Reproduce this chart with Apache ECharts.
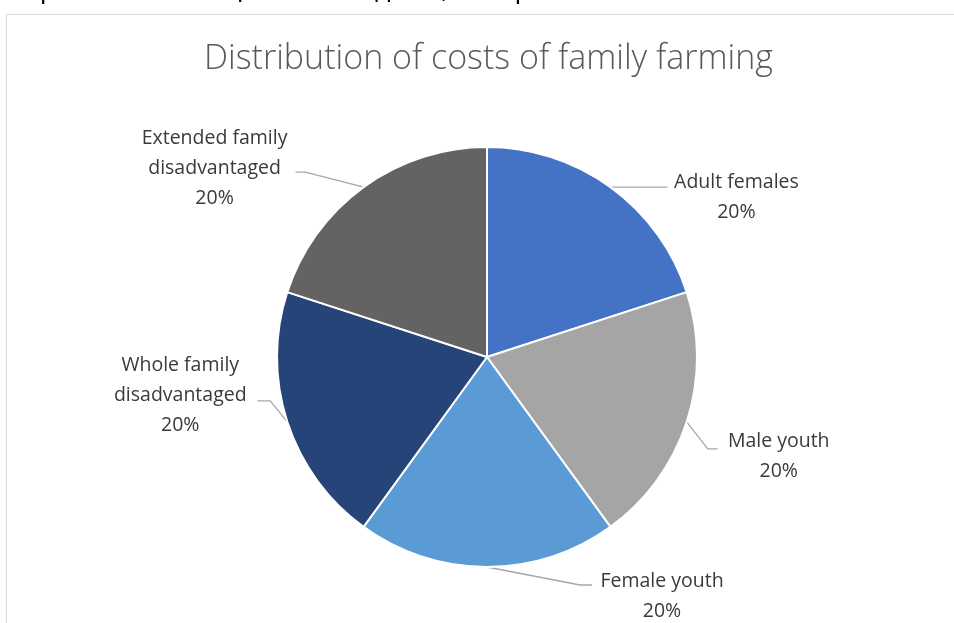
<!DOCTYPE html>
<html>
<head>
<meta charset="utf-8">
<script src="https://cdn.jsdelivr.net/npm/echarts@6/dist/echarts.min.js"></script>
<style>
html,body{margin:0;padding:0;background:#fff;}
#chart{width:954px;height:623px;}
</style>
</head>
<body>
<div id="chart"></div>
<script>
// ---- data ----
var categories = ['Adult females', 'Male youth', 'Female youth', 'Whole family disadvantaged', 'Extended family disadvantaged'];
var labelTexts = ['Adult females', 'Male youth', 'Female youth', 'Whole family\ndisadvantaged', 'Extended family\ndisadvantaged'];
var values = [20, 20, 20, 20, 20];
var chartTitle = 'Distribution of costs of family farming';
var pageText = 'затрагивает женщин и молодежь, которым';

// ---- style / layout ----
var colors = ['#4472C4', '#A5A5A5', '#5B9BD5', '#264478', '#636363'];
var FONT = '"Open Sans", Lato, sans-serif';
// label layout: elbow offset (relative to edge anchor), line end offset, label centre x, label centre y (relative to anchor)
var labelGeom = [
  {elbow: [2, 0],    end: [57, 0],   cx: 126, cy: 10},
  {elbow: [21, 27],  end: [31, 27],  cx: 92,  cy: 35},
  {elbow: [93, 18],  end: [105, 18], cx: 175, cy: 29},
  {elbow: [-17, -21],end: [-30, -21],cx: -107,cy: -26},
  {elbow: [-58, -15],end: [-68, -15],cx: -149,cy: -19}
];

var data = categories.map(function (c, i) {
  return {
    name: c,
    value: values[i],
    itemStyle: {color: colors[i]},
    label: {formatter: labelTexts[i] + '\n{d}%'}
  };
});

var chart = echarts.init(document.getElementById('chart'), null, {renderer: 'canvas'});
chart.setOption({
  animation: false,
  backgroundColor: '#ffffff',
  title: {
    text: chartTitle,
    left: 199,
    top: 37,
    textStyle: {fontFamily: FONT, fontWeight: 300, fontSize: 34, color: '#595959'}
  },
  graphic: [
    {type: 'rect', shape: {x: 6.5, y: 14.5, width: 1000, height: 700}, style: {fill: 'none', stroke: '#d9d9d9', lineWidth: 1}, silent: true},
    {type: 'text', left: -1, top: -24, style: {text: pageText, font: '27px ' + FONT, fill: '#000'}, silent: true}
  ],
  series: [{
    type: 'pie',
    center: [487, 357],
    radius: 210,
    startAngle: 90,
    clockwise: true,
    data: data,
    itemStyle: {borderColor: '#ffffff', borderWidth: 2},
    label: {
      show: true,
      position: 'outside',
      fontFamily: FONT,
      fontSize: 19.5,
      lineHeight: 30,
      color: '#3a3a3a',
      align: 'center'
    },
    labelLine: {show: true, length: 10, length2: 10, lineStyle: {color: '#a6a6a6', width: 1.3}},
    labelLayout: function (p) {
      var g = labelGeom[p.dataIndex];
      var a = p.labelLinePoints[0];
      return {
        x: a[0] + g.cx,
        y: a[1] + g.cy,
        align: 'center',
        verticalAlign: 'middle',
        labelLinePoints: [
          [a[0], a[1]],
          [a[0] + g.elbow[0], a[1] + g.elbow[1]],
          [a[0] + g.end[0], a[1] + g.end[1]]
        ]
      };
    }
  }]
});
</script>
</body>
</html>
